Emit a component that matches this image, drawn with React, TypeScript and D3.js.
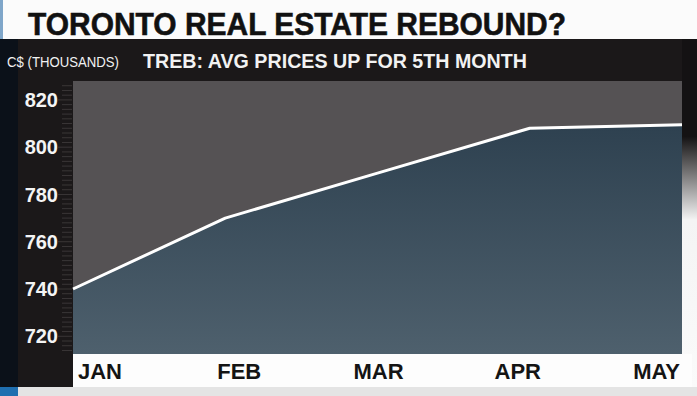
import React from 'react';
import * as d3 from 'd3';

const months = ['JAN', 'FEB', 'MAR', 'APR', 'MAY'];
const avgPrice = [740, 770, 789, 808, 809.5];
const yTicks = [720, 740, 760, 780, 800, 820];

const W = 697;
const H = 396;
const plot = { left: 73, right: 682, top: 81, bottom: 354 };

const condensed = '"Liberation Sans Narrow", "Liberation Sans", Arial, sans-serif';
const sans = '"Liberation Sans", Arial, Helvetica, sans-serif';

const App: React.FC = () => {
  const x = d3.scalePoint<string>().domain(months).range([plot.left, plot.right]);
  const xLabel = d3.scalePoint<string>().domain(months).range([100, 657]);
  const y = d3.scaleLinear().domain([712.5, 828]).range([plot.bottom, plot.top]);

  const pts = months.map((m, i) => ({ m, v: avgPrice[i] }));
  const line = d3.line<{ m: string; v: number }>().x(d => x(d.m)!).y(d => y(d.v));
  const area = d3
    .area<{ m: string; v: number }>()
    .x(d => x(d.m)!)
    .y0(plot.bottom)
    .y1(d => y(d.v));

  const minor = d3.range(714, 828, 2);

  return (
    <svg width={W} height={H} style={{ position: 'absolute', left: 0, top: 0 }}>
      <defs>
        <linearGradient id="areaFill" x1="0" y1="0" x2="0" y2="1">
          <stop offset="0%" stopColor="#2e4150" />
          <stop offset="100%" stopColor="#4e606d" />
        </linearGradient>
        <linearGradient id="edge" x1="0" y1="0" x2="0" y2="1">
          <stop offset="0%" stopColor="#141213" />
          <stop offset="28%" stopColor="#141213" />
          <stop offset="52%" stopColor="#f4f4f4" />
          <stop offset="100%" stopColor="#fafafa" />
        </linearGradient>
      </defs>

      {/* backgrounds */}
      <rect x={0} y={0} width={W} height={39} fill="#fbfbfb" />
      <rect x={0} y={0} width={3} height={39} fill="#7fa6c9" />
      <rect x={0} y={39} width={W} height={348} fill="#1b1819" />
      <rect x={0} y={39} width={18} height={348} fill="#0b1119" />
      <rect x={plot.right} y={39} width={W - plot.right} height={348} fill="url(#edge)" />
      <rect x={0} y={387} width={W} height={9} fill="#e4e4e4" />
      <rect x={0} y={387} width={18} height={9} fill="#1f6fb0" />

      <text
        x={28}
        y={35}
        fontFamily={condensed}
        fontWeight="900"
        fontSize={32}
        fill="#111"
        stroke="#111"
        strokeWidth={0.6}
        textLength={538}
        lengthAdjust="spacingAndGlyphs"
      >
        TORONTO REAL ESTATE REBOUND?
      </text>

      <text
        x={7}
        y={67}
        fontFamily={condensed}
        fontSize={15}
        fill="#f2f2f2"
        textLength={112}
        lengthAdjust="spacingAndGlyphs"
      >
        C$ (THOUSANDS)
      </text>
      <text
        x={143}
        y={68}
        fontFamily={condensed}
        fontWeight="bold"
        fontSize={21}
        fill="#f2f2f2"
        textLength={384}
        lengthAdjust="spacingAndGlyphs"
      >
        TREB: AVG PRICES UP FOR 5TH MONTH
      </text>

      {/* plot */}
      <rect
        x={plot.left}
        y={plot.top}
        width={plot.right - plot.left}
        height={plot.bottom - plot.top}
        fill="#555254"
      />
      <path d={area(pts) ?? ''} fill="url(#areaFill)" />
      <path d={line(pts) ?? ''} fill="none" stroke="#ffffff" strokeWidth={3} strokeLinejoin="round" />

      {/* y axis ticks */}
      {minor.map(v => (
        <line
          key={v}
          x1={v % 20 === 0 ? 58 : 62}
          x2={plot.left - 1}
          y1={y(v)}
          y2={y(v)}
          stroke="#3a3637"
          strokeWidth={1}
        />
      ))}
      {yTicks.map(t => (
        <text
          key={t}
          x={58}
          y={y(t)}
          dy="0.36em"
          textAnchor="end"
          fontFamily={sans}
          fontWeight="bold"
          fontSize={20}
          fill="#f4f4f4"
        >
          {t}
        </text>
      ))}

      {/* x axis band */}
      <rect x={plot.left} y={plot.bottom} width={692 - plot.left} height={387 - plot.bottom} fill="#fdfdfd" />
      {months.map((m, i) => (
        <text
          key={m}
          x={i === 0 ? 78 : i === months.length - 1 ? 680 : xLabel(m)}
          y={379}
          textAnchor={i === 0 ? 'start' : i === months.length - 1 ? 'end' : 'middle'}
          fontFamily={sans}
          fontWeight="bold"
          fontSize={22}
          fill="#141414"
        >
          {m}
        </text>
      ))}
    </svg>
  );
};

export default App;
